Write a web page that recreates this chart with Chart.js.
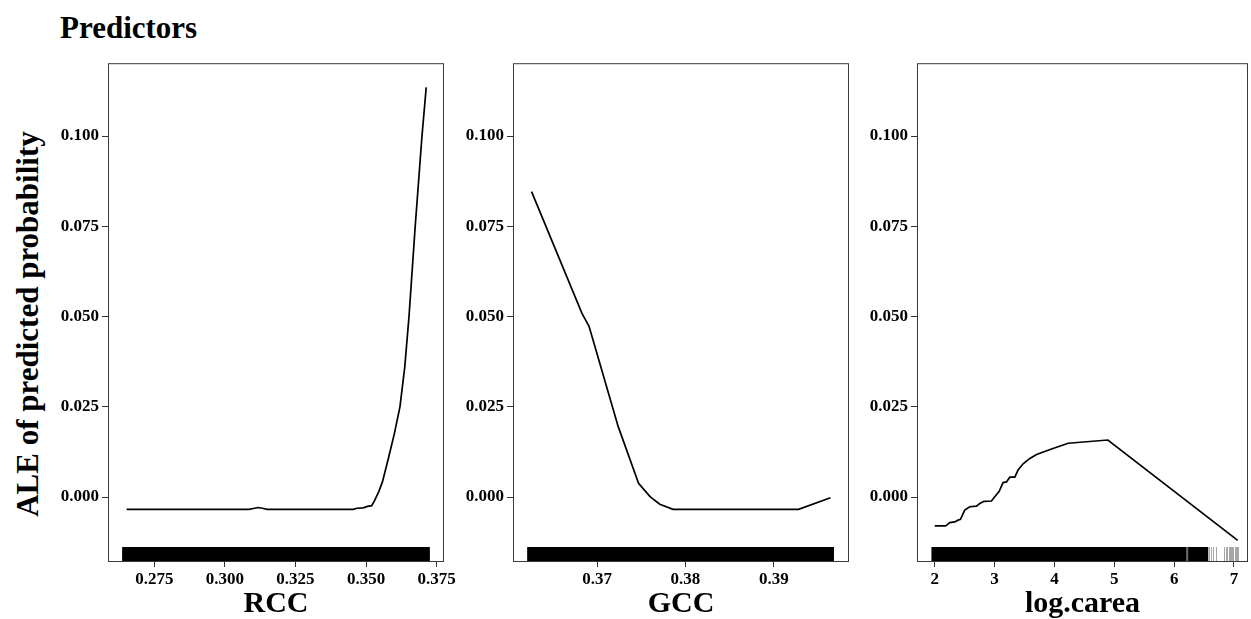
<!DOCTYPE html>
<html>
<head>
<meta charset="utf-8">
<script src="https://cdn.jsdelivr.net/npm/chart.js@4.4.1/dist/chart.umd.min.js"></script>
<style>
  html, body { margin: 0; padding: 0; background: #fff; }
  body { width: 1251px; height: 619px; position: relative; overflow: hidden; font-family: "Liberation Serif", serif; }
  .panel { position: absolute; top: 50px; }
  #title { position: absolute; left: 60px; top: 12px; font-size: 31px; font-weight: bold; line-height: 1; }
  #ylab { position: absolute; left: 27px; top: 324px; font-size: 31px; font-weight: bold; line-height: 1;
          white-space: nowrap; transform: translate(-50%, -50%) rotate(-90deg); }
</style>
</head>
<body>
<div id="title">Predictors</div>
<div id="ylab">ALE of predicted probability</div>
<canvas id="rcc" class="panel" width="430" height="569" style="left:40px"></canvas>
<canvas id="gcc" class="panel" width="430" height="569" style="left:445px"></canvas>
<canvas id="carea" class="panel" width="402" height="569" style="left:849px"></canvas>
<script>
// ALE curves
const rccX = [0.2652, 0.3085, 0.3105, 0.3118, 0.3132, 0.3150, 0.3455, 0.3467, 0.3490, 0.3505, 0.3520, 0.3530,
              0.3545, 0.3558, 0.3580, 0.3600, 0.3620, 0.3637, 0.3652, 0.3674, 0.3698, 0.3713];
const rccY = [-0.0034, -0.0034, -0.0031, -0.0029, -0.0031, -0.0034, -0.0034, -0.0031, -0.0030, -0.0026, -0.0024, -0.0010,
              0.0015, 0.0042, 0.0110, 0.0175, 0.0250, 0.0360, 0.0500, 0.0750, 0.1000, 0.1135];

const gccX = [0.3626, 0.3683, 0.3691, 0.3724, 0.3747, 0.3760, 0.3771, 0.3786, 0.3928, 0.3964];
const gccY = [0.0846, 0.0509, 0.0473, 0.0195, 0.0038, 0.0001, -0.0020, -0.0034, -0.0034, -0.0002];

const careaX = [2.000, 2.184, 2.251, 2.334, 2.390, 2.430, 2.502, 2.585, 2.697, 2.753, 2.824, 2.948, 3.003,
                3.075, 3.142, 3.199, 3.254, 3.338, 3.393, 3.477, 3.589, 3.701, 3.952, 4.229, 4.893, 7.062];
const careaY = [-0.0080, -0.0080, -0.0071, -0.0069, -0.0064, -0.0062, -0.0036, -0.0027, -0.0025, -0.0018, -0.0012, -0.0011, 0.0001,
                0.0015, 0.0040, 0.0042, 0.0055, 0.0055, 0.0075, 0.0092, 0.0107, 0.0118, 0.0133, 0.0149, 0.0158, -0.0120];

// rug: solid stretches where the observations are dense, single marks where sparse
const rccRugSpans = [[0.2636, 0.3726]];
const gccRugSpans = [[0.3621, 0.3968]];
const careaRugSpans = [[1.945, 6.209], [6.235, 6.570]];
const careaRugMarks = [6.212, 6.218, 6.224, 6.230, 6.59, 6.61, 6.654, 6.70, 6.83, 6.86, 6.89, 6.91, 6.93, 6.95, 6.97, 6.99, 7.01, 7.03, 7.05, 7.07];

// tick labels
const yTicks = [0, 0.025, 0.05, 0.075, 0.1];
const yTickLabels = ['0.000', '0.025', '0.050', '0.075', '0.100'];
const rccTicks = [0.275, 0.300, 0.325, 0.350, 0.375];
const rccTickLabels = ['0.275', '0.300', '0.325', '0.350', '0.375'];
const gccTicks = [0.37, 0.38, 0.39];
const gccTickLabels = ['0.37', '0.38', '0.39'];
const careaTicks = [2, 3, 4, 5, 6, 7];
const careaTickLabels = ['2', '3', '4', '5', '6', '7'];

const FONT = '"Liberation Serif", "Times New Roman", serif';

const boxAndRug = {
  id: 'boxAndRug',
  beforeDatasetsDraw(chart, args, opts) {
    const { ctx, chartArea: a, scales: { x } } = chart;
    const h = 15;
    ctx.save();
    ctx.beginPath();
    ctx.rect(a.left, a.top, a.right - a.left, a.bottom - a.top);
    ctx.clip();
    ctx.fillStyle = '#000';
    (opts.spans || []).forEach(([s, e]) => {
      const x0 = x.getPixelForValue(s), x1 = x.getPixelForValue(e);
      ctx.fillRect(x0, a.bottom - h, x1 - x0, h);
    });
    ctx.strokeStyle = 'rgba(0,0,0,0.35)';
    ctx.lineWidth = 1;
    (opts.marks || []).forEach(v => {
      const px = Math.round(x.getPixelForValue(v)) + 0.5;
      ctx.beginPath();
      ctx.moveTo(px, a.bottom - h);
      ctx.lineTo(px, a.bottom);
      ctx.stroke();
    });
    ctx.restore();
  },
  afterDraw(chart) {
    const { ctx, chartArea: a } = chart;
    ctx.save();
    ctx.strokeStyle = '#3a3a3a';
    ctx.lineWidth = 1;
    ctx.strokeRect(a.left + 0.5, a.top + 0.5, a.right - a.left - 1, a.bottom - a.top - 1);
    ctx.restore();
  }
};

function makePanel(id, xs, ys, xMin, xMax, ticks, labels, title, spans, marks, padRight) {
  new Chart(document.getElementById(id), {
    type: 'line',
    data: {
      datasets: [{
        data: xs.map((v, i) => ({ x: v, y: ys[i] })),
        borderColor: '#000',
        borderWidth: 1.7,
        pointRadius: 0,
        tension: 0,
        fill: false
      }]
    },
    options: {
      responsive: false,
      animation: false,
      layout: { padding: { top: 13, right: padRight, bottom: 0, left: 0 } },
      plugins: {
        legend: { display: false },
        tooltip: { enabled: false },
        boxAndRug: { spans: spans, marks: marks }
      },
      scales: {
        x: {
          type: 'linear',
          min: xMin,
          max: xMax,
          afterBuildTicks: s => { s.ticks = ticks.map(v => ({ value: v })); },
          afterFit: s => { s.height = 57; },
          ticks: {
            autoSkip: false,
            maxRotation: 0,
            padding: 2,
            color: '#000',
            font: { family: FONT, size: 17, weight: 'bold' },
            callback: (v, i) => labels[i]
          },
          grid: { drawOnChartArea: false, drawTicks: true, tickLength: 5, color: '#333' },
          border: { display: false },
          title: {
            display: true,
            text: title,
            color: '#000',
            font: { family: FONT, size: 30, weight: 'bold', lineHeight: 1 },
            padding: { top: 0, bottom: 0 }
          }
        },
        y: {
          min: -0.018,
          max: 0.1202,
          afterBuildTicks: s => { s.ticks = yTicks.map(v => ({ value: v })); },
          afterFit: s => { s.width = 68; },
          ticks: {
            padding: 3,
            color: '#000',
            font: { family: FONT, size: 17, weight: 'bold' },
            callback: (v, i) => yTickLabels[i]
          },
          grid: { drawOnChartArea: false, drawTicks: true, tickLength: 6, color: '#333' },
          border: { display: false }
        }
      }
    },
    plugins: [boxAndRug]
  });
}

makePanel('rcc', rccX, rccY, 0.2586, 0.3776, rccTicks, rccTickLabels, 'RCC', rccRugSpans, [], 26);
makePanel('gcc', gccX, gccY, 0.3605, 0.3985, gccTicks, gccTickLabels, 'GCC', gccRugSpans, [], 26);
makePanel('carea', careaX, careaY, 1.704, 7.234, careaTicks, careaTickLabels, 'log.carea', careaRugSpans, careaRugMarks, 3);
</script>
</body>
</html>
